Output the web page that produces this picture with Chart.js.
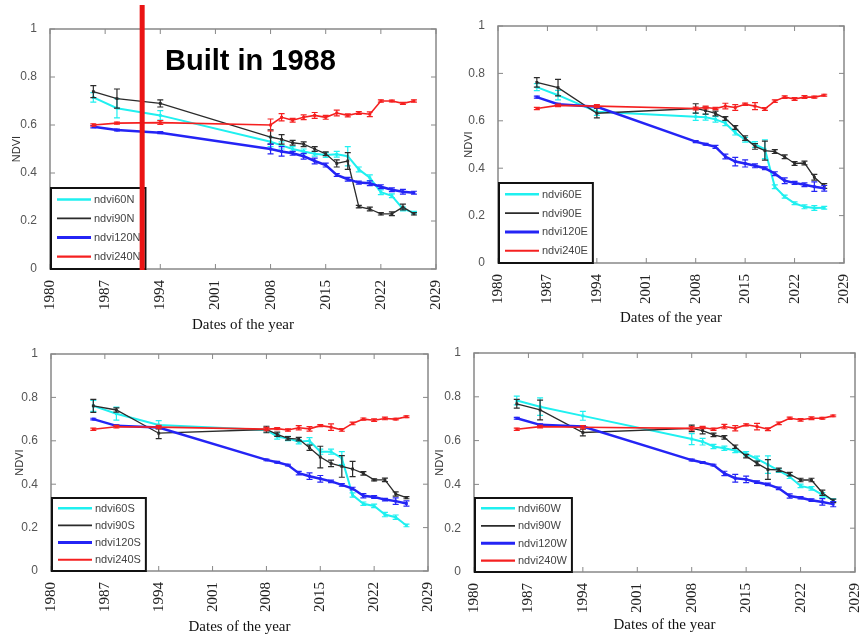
<!DOCTYPE html>
<html lang="en">
<head>
  <meta charset="UTF-8">
  <title>NDVI by direction</title>
  <style>
    body { margin: 0; background: #fff; }
    #wrap { position: relative; width: 859px; height: 642px; overflow: hidden; background: #fff; }
    canvas { position: absolute; }
  </style>
  <script src="https://cdn.jsdelivr.net/npm/chart.js"></script>
</head>
<body>
<div id="wrap">
  <canvas id="chartN" width="440" height="340" style="left:0;top:0"></canvas>
  <canvas id="chartE" width="409" height="340" style="left:450px;top:0"></canvas>
  <canvas id="chartS" width="440" height="312" style="left:0;top:330px"></canvas>
  <canvas id="chartW" width="429" height="312" style="left:430px;top:330px"></canvas>
</div>
<script>
  // sample dates shared by every panel
  const years = [1985.5, 1988.5, 1994, 2008, 2009.4, 2010.8, 2012.2, 2013.6, 2015, 2016.4, 2017.8, 2019.2, 2020.6, 2022, 2023.4, 2024.8, 2026.2];
  const xTicks = [1980, 1987, 1994, 2001, 2008, 2015, 2022, 2029];
  const yTicks = [0, 0.2, 0.4, 0.6, 0.8, 1];
  const builtLineYear = 1991.7;

  // North
  const ndvi60N  = [0.715, 0.67, 0.64, 0.53, 0.515, 0.50, 0.49, 0.48, 0.475, 0.478, 0.47, 0.415, 0.38, 0.32, 0.305, 0.25, 0.235];
  const ndvi90N  = [0.739, 0.71, 0.69, 0.55, 0.54, 0.526, 0.52, 0.50, 0.48, 0.44, 0.45, 0.26, 0.25, 0.23, 0.23, 0.258, 0.23];
  const ndvi120N = [0.593, 0.579, 0.568, 0.50, 0.49, 0.482, 0.47, 0.45, 0.433, 0.392, 0.374, 0.36, 0.357, 0.343, 0.33, 0.322, 0.318];
  const ndvi240N = [0.60, 0.608, 0.61, 0.60, 0.632, 0.62, 0.632, 0.64, 0.632, 0.65, 0.64, 0.65, 0.645, 0.70, 0.70, 0.69, 0.70];
  const err60N  = [0.02, 0.04, 0.02, 0.02, 0.015, 0.01, 0.01, 0.01, 0.01, 0.012, 0.04, 0.01, 0.012, 0.01, 0.008, 0.008, 0.005];
  const err90N  = [0.025, 0.04, 0.015, 0.03, 0.02, 0.01, 0.01, 0.01, 0.008, 0.015, 0.035, 0.005, 0.008, 0.005, 0.008, 0.012, 0.005];
  const err120N = [0.005, 0.004, 0.004, 0.02, 0.02, 0.008, 0.012, 0.012, 0.008, 0.006, 0.008, 0.006, 0.01, 0.008, 0.008, 0.01, 0.006];
  const err240N = [0.005, 0.004, 0.008, 0.025, 0.015, 0.008, 0.01, 0.012, 0.008, 0.012, 0.006, 0.006, 0.01, 0.005, 0.004, 0.004, 0.005];

  // East
  const ndvi60E  = [0.742, 0.708, 0.638, 0.617, 0.615, 0.606, 0.59, 0.55, 0.52, 0.50, 0.48, 0.322, 0.28, 0.252, 0.237, 0.232, 0.233];
  const ndvi90E  = [0.762, 0.74, 0.632, 0.652, 0.643, 0.631, 0.61, 0.572, 0.527, 0.492, 0.474, 0.47, 0.448, 0.42, 0.422, 0.362, 0.325];
  const ndvi120E = [0.70, 0.67, 0.659, 0.512, 0.501, 0.49, 0.449, 0.428, 0.42, 0.41, 0.40, 0.377, 0.347, 0.338, 0.33, 0.322, 0.315];
  const ndvi240E = [0.652, 0.665, 0.662, 0.652, 0.656, 0.652, 0.662, 0.656, 0.67, 0.662, 0.65, 0.683, 0.70, 0.692, 0.70, 0.70, 0.708];
  const err60E  = [0.015, 0.02, 0.015, 0.015, 0.012, 0.012, 0.01, 0.01, 0.01, 0.012, 0.04, 0.008, 0.006, 0.006, 0.008, 0.01, 0.006];
  const err90E  = [0.02, 0.035, 0.02, 0.02, 0.015, 0.01, 0.008, 0.008, 0.01, 0.012, 0.04, 0.008, 0.008, 0.008, 0.008, 0.012, 0.01];
  const err120E = [0.004, 0.004, 0.004, 0.004, 0.004, 0.006, 0.01, 0.018, 0.015, 0.008, 0.006, 0.008, 0.012, 0.006, 0.008, 0.02, 0.012];
  const err240E = [0.005, 0.005, 0.006, 0.006, 0.006, 0.005, 0.012, 0.012, 0.005, 0.015, 0.006, 0.005, 0.005, 0.006, 0.006, 0.004, 0.004];

  // South
  const ndvi60S  = [0.761, 0.725, 0.673, 0.65, 0.62, 0.611, 0.596, 0.60, 0.55, 0.55, 0.52, 0.35, 0.31, 0.30, 0.26, 0.248, 0.21];
  const ndvi90S  = [0.761, 0.742, 0.635, 0.652, 0.63, 0.611, 0.608, 0.568, 0.525, 0.496, 0.482, 0.47, 0.45, 0.42, 0.42, 0.355, 0.338];
  const ndvi120S = [0.70, 0.669, 0.661, 0.512, 0.501, 0.488, 0.451, 0.437, 0.425, 0.413, 0.397, 0.38, 0.347, 0.341, 0.329, 0.322, 0.311];
  const ndvi240S = [0.653, 0.665, 0.663, 0.654, 0.656, 0.65, 0.66, 0.655, 0.67, 0.663, 0.65, 0.68, 0.70, 0.695, 0.703, 0.70, 0.711];
  const err60S  = [0.025, 0.03, 0.02, 0.01, 0.012, 0.01, 0.01, 0.015, 0.012, 0.012, 0.03, 0.01, 0.008, 0.008, 0.01, 0.01, 0.006];
  const err90S  = [0.03, 0.01, 0.025, 0.015, 0.01, 0.008, 0.008, 0.012, 0.05, 0.015, 0.05, 0.035, 0.008, 0.005, 0.008, 0.01, 0.005];
  const err120S = [0.004, 0.004, 0.004, 0.004, 0.004, 0.004, 0.008, 0.015, 0.015, 0.006, 0.006, 0.006, 0.01, 0.006, 0.006, 0.015, 0.012];
  const err240S = [0.005, 0.006, 0.008, 0.008, 0.005, 0.005, 0.01, 0.01, 0.005, 0.015, 0.006, 0.006, 0.005, 0.006, 0.006, 0.004, 0.004];

  // West
  const ndvi60W  = [0.783, 0.755, 0.713, 0.607, 0.595, 0.573, 0.565, 0.555, 0.54, 0.517, 0.49, 0.463, 0.435, 0.393, 0.382, 0.352, 0.328];
  const ndvi90W  = [0.768, 0.74, 0.637, 0.656, 0.646, 0.626, 0.615, 0.572, 0.529, 0.496, 0.468, 0.466, 0.447, 0.42, 0.42, 0.362, 0.325];
  const ndvi120W = [0.702, 0.672, 0.664, 0.511, 0.50, 0.488, 0.45, 0.428, 0.423, 0.41, 0.40, 0.382, 0.347, 0.339, 0.328, 0.32, 0.31];
  const ndvi240W = [0.652, 0.664, 0.661, 0.656, 0.66, 0.652, 0.664, 0.656, 0.672, 0.664, 0.652, 0.679, 0.702, 0.695, 0.702, 0.702, 0.713];
  const err60W  = [0.02, 0.04, 0.02, 0.025, 0.015, 0.01, 0.01, 0.01, 0.01, 0.012, 0.04, 0.008, 0.008, 0.008, 0.008, 0.01, 0.006];
  const err90W  = [0.02, 0.045, 0.015, 0.015, 0.015, 0.008, 0.008, 0.008, 0.008, 0.01, 0.045, 0.008, 0.008, 0.008, 0.008, 0.012, 0.008];
  const err120W = [0.004, 0.004, 0.004, 0.004, 0.004, 0.004, 0.01, 0.018, 0.015, 0.006, 0.006, 0.006, 0.01, 0.005, 0.006, 0.015, 0.012];
  const err240W = [0.005, 0.006, 0.008, 0.008, 0.005, 0.005, 0.01, 0.012, 0.005, 0.015, 0.006, 0.006, 0.005, 0.006, 0.006, 0.004, 0.004];

  const seriesStyle = [
    { name: 'ndvi60',  color: '#1ff0f0', width: 2 },
    { name: 'ndvi90',  color: '#2b2b2b', width: 1.3 },
    { name: 'ndvi120', color: '#2424f5', width: 2.5 },
    { name: 'ndvi240', color: '#f52020', width: 1.6 }
  ];

  // one entry per subplot; area = plot box inside its canvas
  const panels = [
    { id: 'chartN', dir: 'N', values: [ndvi60N, ndvi90N, ndvi120N, ndvi240N], errors: [err60N, err90N, err120N, err240N],
      area: { left: 50, right: 436, top: 29, bottom: 269 }, yTitlePad: 10.4, xTitlePad: 6, built: true },
    { id: 'chartE', dir: 'E', values: [ndvi60E, ndvi90E, ndvi120E, ndvi240E], errors: [err60E, err90E, err120E, err240E],
      area: { left: 48, right: 394, top: 26, bottom: 263 }, yTitlePad: 12.4, xTitlePad: 13 },
    { id: 'chartS', dir: 'S', values: [ndvi60S, ndvi90S, ndvi120S, ndvi240S], errors: [err60S, err90S, err120S, err240S],
      area: { left: 51, right: 428, top: 24, bottom: 241 }, yTitlePad: 13.4, xTitlePad: 6 },
    { id: 'chartW', dir: 'W', values: [ndvi60W, ndvi90W, ndvi120W, ndvi240W], errors: [err60W, err90W, err120W, err240W],
      area: { left: 44, right: 428, top: 23, bottom: 242 }, yTitlePad: 3.4, xTitlePad: 8 }
  ];

  Chart.defaults.font.family = '"Liberation Sans", Arial, sans-serif';

  // MATLAB look: error bars, boxed axes with inward ticks, legend box, annotation
  const matlabPlugin = {
    id: 'matlab',
    afterDatasetDraw(chart, args) {
      const ds = chart.data.datasets[args.index];
      const ys = chart.scales.y;
      const ctx = chart.ctx;
      ctx.save();
      ctx.strokeStyle = ds.borderColor;
      ctx.lineWidth = 1.2;
      args.meta.data.forEach((pt, i) => {
        const v = ds.data[i].y, e = ds.errorBars[i];
        const top = ys.getPixelForValue(v + e), bot = ys.getPixelForValue(v - e);
        ctx.beginPath();
        ctx.moveTo(pt.x, top); ctx.lineTo(pt.x, bot);
        ctx.moveTo(pt.x - 3, top); ctx.lineTo(pt.x + 3, top);
        ctx.moveTo(pt.x - 3, bot); ctx.lineTo(pt.x + 3, bot);
        ctx.stroke();
      });
      ctx.restore();
    },
    afterDraw(chart, args, opts) {
      const ctx = chart.ctx;
      const a = chart.chartArea;
      const xs = chart.scales.x, ys = chart.scales.y;
      ctx.save();
      // axes box + inward ticks
      ctx.strokeStyle = '#888';
      ctx.lineWidth = 1.5;
      ctx.strokeRect(a.left, a.top, a.right - a.left, a.bottom - a.top);
      ctx.lineWidth = 1;
      ctx.beginPath();
      xs.ticks.forEach(t => {
        const x = xs.getPixelForValue(t.value);
        ctx.moveTo(x, a.bottom); ctx.lineTo(x, a.bottom - 5);
        ctx.moveTo(x, a.top); ctx.lineTo(x, a.top + 5);
      });
      ys.ticks.forEach(t => {
        const y = ys.getPixelForValue(t.value);
        ctx.moveTo(a.left, y); ctx.lineTo(a.left + 5, y);
        ctx.moveTo(a.right, y); ctx.lineTo(a.right - 5, y);
      });
      ctx.stroke();

      // legend in lower-left corner
      const dsets = chart.data.datasets;
      ctx.font = '11px "Liberation Sans", Arial, sans-serif';
      const textW = Math.max(...dsets.map(d => ctx.measureText(d.label).width));
      const lh = Math.round((a.bottom - a.top) * 0.342);
      const lw = 44 + textW + 6;
      const lx = a.left, ly = a.bottom - lh;
      ctx.fillStyle = '#fff';
      ctx.fillRect(lx, ly, lw, lh);
      ctx.strokeStyle = '#111';
      ctx.lineWidth = 2;
      ctx.strokeRect(lx + 1, ly + 1, lw - 2, lh - 1);
      const rowH = lh / 4.3;
      dsets.forEach((d, i) => {
        const ry = ly + rowH * 0.65 + i * rowH;
        ctx.strokeStyle = d.borderColor;
        ctx.lineWidth = d.borderWidth + 0.5;
        ctx.beginPath();
        ctx.moveTo(lx + 7, ry); ctx.lineTo(lx + 41, ry);
        ctx.stroke();
        ctx.fillStyle = '#444';
        ctx.textBaseline = 'middle';
        ctx.fillText(d.label, lx + 44, ry + 0.5);
      });

      if (opts.built) {
        const bx = xs.getPixelForValue(builtLineYear);
        ctx.strokeStyle = '#ea1414';
        ctx.lineWidth = 5;
        ctx.beginPath();
        ctx.moveTo(bx, 5); ctx.lineTo(bx, a.bottom + 1);
        ctx.stroke();
        ctx.fillStyle = '#000';
        ctx.textBaseline = 'alphabetic';
        ctx.font = 'bold 29px "Liberation Sans", Arial, sans-serif';
        ctx.fillText('Built in 1988', a.left + 115, a.top + 41);
      }
      ctx.restore();
    }
  };

  panels.forEach(p => {
    const canvas = document.getElementById(p.id);
    const W = canvas.width, H = canvas.height;
    const datasets = seriesStyle.map((s, k) => ({
      label: s.name + p.dir,
      data: years.map((x, i) => ({ x: x, y: p.values[k][i] })),
      errorBars: p.errors[k],
      borderColor: s.color,
      backgroundColor: s.color,
      borderWidth: s.width,
      pointStyle: 'rect',
      pointRadius: 2,
      pointBorderWidth: 0,
      tension: 0,
      order: 3 - k
    }));

    new Chart(canvas, {
      type: 'line',
      data: { datasets: datasets },
      plugins: [matlabPlugin],
      options: {
        responsive: false,
        animation: false,
        layout: { padding: { left: 0, right: W - p.area.right, top: p.area.top, bottom: 0 } },
        plugins: {
          legend: { display: false },
          tooltip: { enabled: false },
          matlab: { built: !!p.built }
        },
        scales: {
          x: {
            type: 'linear',
            min: 1980,
            max: 2029,
            grid: { display: false },
            border: { display: false },
            afterBuildTicks: scale => { scale.ticks = xTicks.map(v => ({ value: v })); },
            afterFit: scale => {
              scale.height = H - p.area.bottom;
              scale.paddingLeft = 0; scale.paddingRight = 0;
            },
            ticks: {
              autoSkip: false,
              minRotation: 90,
              maxRotation: 90,
              padding: 3,
              color: '#222',
              font: { family: '"Liberation Serif", "Times New Roman", serif', size: 15 },
              callback: v => String(v)
            },
            title: {
              display: true,
              text: 'Dates of the year',
              color: '#111',
              font: { family: '"Liberation Serif", "Times New Roman", serif', size: 15 },
              padding: { top: 0, bottom: p.xTitlePad }
            }
          },
          y: {
            type: 'linear',
            min: 0,
            max: 1,
            grid: { display: false },
            border: { display: false },
            afterBuildTicks: scale => { scale.ticks = yTicks.map(v => ({ value: v })); },
            afterFit: scale => {
              scale.width = p.area.left;
              scale.paddingTop = 0; scale.paddingBottom = 0;
            },
            ticks: {
              padding: 5,
              color: '#555',
              font: { size: 12 },
              callback: v => String(v)
            },
            title: {
              display: true,
              text: 'NDVI',
              color: '#333',
              font: { size: 11 },
              padding: { top: p.yTitlePad, bottom: 0 }
            }
          }
        }
      }
    });
  });
</script>
</body>
</html>
